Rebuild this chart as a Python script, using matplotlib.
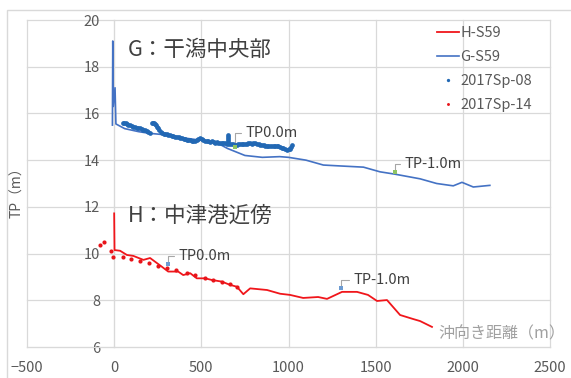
import matplotlib
matplotlib.use("Agg")
import matplotlib.pyplot as plt
from matplotlib.patches import Rectangle

plt.rcParams['font.family'] = ['Noto Sans CJK JP', 'DejaVu Sans']

# G-S59 profile (distance offshore, TP elevation)
g_x = [-10, -8, -5, 5, 10, 60, 140, 200, 330, 400, 500, 600, 650, 750, 850, 950,
       1000, 1100, 1200, 1300, 1430, 1525, 1610, 1755, 1850, 1945, 1995, 2060, 2155]
g_y = [15.5, 19.1, 16.3, 17.1, 15.55, 15.35, 15.22, 15.15, 15.06, 14.95, 14.85, 14.7, 14.5, 14.2, 14.12, 14.15,
       14.12, 14.0, 13.79, 13.75, 13.7, 13.5, 13.4, 13.2, 13.0, 12.9, 13.05, 12.85, 12.92]

# H-S59 profile
h_x = [0, 2, 34, 73, 110, 168, 206, 273, 310, 367, 396, 436, 474, 522, 560, 617, 665, 704,
       741, 780, 877, 952, 1009, 1084, 1170, 1221, 1307, 1393, 1456, 1508, 1565, 1640, 1714, 1755, 1823]
h_y = [11.72, 10.15, 10.12, 9.94, 9.9, 9.73, 9.81, 9.44, 9.23, 9.23, 9.08, 9.16, 8.94, 8.94, 8.87, 8.8, 8.66, 8.58,
       8.26, 8.51, 8.44, 8.28, 8.23, 8.1, 8.14, 8.06, 8.36, 8.36, 8.23, 7.97, 8.01, 7.37, 7.2, 7.11, 6.86]

# 2017Sp-08 survey points
sp08_x = [50, 58, 66, 74, 82, 90, 101, 110, 120, 130, 139, 149, 158, 168, 178, 187, 196, 206,
          216, 222, 229, 235, 241, 247, 254, 260, 267, 274, 283, 292, 301, 311, 320, 330, 340, 350,
          360, 370, 379, 388, 398, 407, 417, 426, 436, 445, 455, 464, 474, 483, 493, 503, 512, 522,
          532, 541, 550, 560, 570, 579, 589, 598, 608, 617, 627, 636, 645, 652, 652, 652, 652,
          660, 670, 680, 694, 703, 713, 722, 732, 741, 751, 760, 770, 780, 789, 799, 808, 818,
          828, 837, 847, 857, 866, 876, 885, 895, 904, 914, 923, 933, 942, 952, 962, 971, 981,
          990, 1000, 1009, 1016, 1022]
sp08_y = [15.6, 15.58, 15.57, 15.55, 15.52, 15.5, 15.46, 15.44, 15.41, 15.39, 15.38, 15.36, 15.33, 15.31, 15.28, 15.26, 15.22, 15.18,
          15.58, 15.6, 15.58, 15.55, 15.5, 15.44, 15.36, 15.28, 15.2, 15.15, 15.14, 15.12, 15.1, 15.08, 15.06, 15.04, 15.02, 15.0,
          14.99, 14.97, 14.96, 14.94, 14.92, 14.9, 14.88, 14.86, 14.85, 14.84, 14.83, 14.83, 14.87, 14.91, 14.94, 14.89, 14.85, 14.83,
          14.82, 14.8, 14.79, 14.8, 14.77, 14.75, 14.76, 14.74, 14.74, 14.73, 14.73, 14.72, 14.7, 14.8, 14.9, 15.0, 15.08,
          14.7, 14.69, 14.68, 14.65, 14.66, 14.68, 14.67, 14.7, 14.7, 14.69, 14.71, 14.72, 14.72, 14.7, 14.73, 14.72, 14.7,
          14.68, 14.66, 14.65, 14.64, 14.62, 14.61, 14.6, 14.61, 14.6, 14.6, 14.61, 14.6, 14.6, 14.57, 14.53, 14.5, 14.46,
          14.45, 14.46, 14.46, 14.55, 14.65]

# 2017Sp-14 survey points
sp14_x = [-80, -57, -19, -7, 50, 96, 149, 201, 252, 304, 356, 417, 464, 522, 568, 618, 665, 704]
sp14_y = [10.37, 10.5, 10.11, 9.85, 9.85, 9.77, 9.68, 9.6, 9.47, 9.38, 9.3, 9.17, 9.08, 8.96, 8.87, 8.78, 8.7, 8.57]

# contour crossing labels: (x, y, text, marker colour, label offset in px)
tp_marks = [
    (694, 14.58, "TP0.0m", "#8FC463", (10, 14)),
    (1611, 13.5, "TP-1.0m", "#8FC463", (9, 8)),
    (306, 9.54, "TP0.0m", "#6C9BD2", (11, 8)),
    (1302, 8.51, "TP-1.0m", "#6C9BD2", (12, 8)),
]

grid_c = "#D9D9D9"
text_c = "#595959"

fig = plt.figure(figsize=(5.71, 3.78), dpi=100)
ax = fig.add_axes([27 / 571, 1 - 347 / 378, 523 / 571, 327 / 378])

ax.plot(h_x, h_y, color="#F0161B", lw=1.3, label="H-S59", zorder=3)
ax.plot(g_x, g_y, color="#4472C4", lw=1.2, label="G-S59", zorder=3)
ax.plot(sp08_x, sp08_y, ls="none", marker="o", ms=3.4, color="#2268B4", mew=0,
        label="2017Sp-08", zorder=4)
ax.plot(sp14_x, sp14_y, ls="none", marker="o", ms=3.0, color="#E8141A", mew=0,
        label="2017Sp-14", zorder=4)

for x, y, txt, mc, off in tp_marks:
    ax.plot([x], [y], ls="none", marker="s", ms=3, color=mc, mew=0, zorder=5)
    ax.annotate(txt, xy=(x, y), xytext=off, textcoords="offset pixels",
                fontsize=10.5, color="#404040", va="center", ha="left",
                arrowprops=dict(arrowstyle="-", color="#A6A6A6", lw=0.8,
                                connectionstyle="angle,angleA=0,angleB=90,rad=0",
                                shrinkA=1, shrinkB=1))

ax.text(80, 18.72, "G：干潟中央部", fontsize=15.5, color="#404040", va="center", ha="left")
ax.text(80, 11.61, "H：中津港近傍", fontsize=15.5, color="#404040", va="center", ha="left")

ax.set_xlim(-500, 2500)
ax.set_ylim(6, 20)
ax.set_xticks(range(-500, 2501, 500))
ax.set_yticks(range(6, 21, 2))
ax.grid(True, color=grid_c, lw=0.9)
ax.set_axisbelow(True)
for s in ("top", "right"):
    ax.spines[s].set_visible(False)
ax.spines["left"].set_position(("data", 0))
ax.spines["left"].set_color(grid_c)
ax.spines["bottom"].set_color(grid_c)
ax.tick_params(length=0, labelsize=10.5, labelcolor=text_c)
ax.tick_params(axis="y", pad=10)
ax.tick_params(axis="x", pad=10)
for gl in ax.get_xgridlines() + ax.get_ygridlines():
    gl.set_clip_on(False)

ax.text(2585, 6.55, "沖向き距離（m）", fontsize=11.5, color="#A0A0A0", ha="right", va="center")
fig.text(17 / 571, 1 - 189 / 378, "TP（m）", rotation=90, fontsize=10, color=text_c,
         ha="center", va="center")

leg = ax.legend(loc="upper left", bbox_to_anchor=(437 / 571, 1 - 26 / 378), bbox_transform=fig.transFigure,
                frameon=False, fontsize=10.5, labelcolor=text_c, handlelength=1.5, handletextpad=0.1,
                labelspacing=0.68, borderpad=0, borderaxespad=0, numpoints=1, markerscale=0.7)

fig.patches.append(Rectangle((7 / 571, -0.2), 1.2, 1.2 - 10 / 378, transform=fig.transFigure,
                             fill=False, edgecolor=grid_c, lw=1))

fig.savefig("out.png", dpi=100)
